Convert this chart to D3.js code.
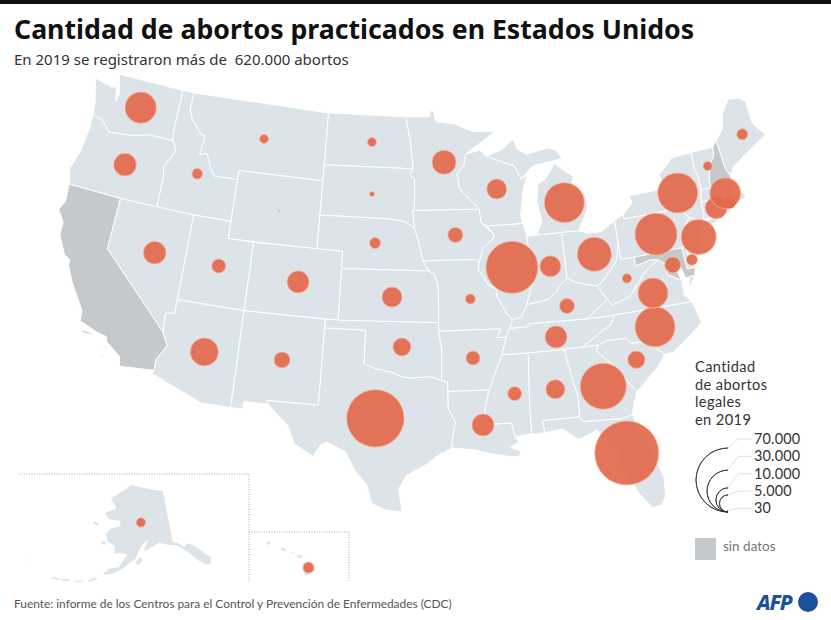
<!DOCTYPE html>
<html><head><meta charset="utf-8"><script src="https://cdn.jsdelivr.net/npm/d3@7"></script>
<style>html,body{margin:0;padding:0;background:#fff}svg{display:block}text{font-family:"Lato",sans-serif;white-space:pre}</style></head>
<body><svg id="c" width="831" height="620"></svg>
<script>
const titleText="Cantidad de abortos practicados en Estados Unidos";
const subtitleText="En 2019 se registraron más de  620.000 abortos";
const sourceText="Fuente: informe de los Centros para el Control y Prevención de Enfermedades (CDC)";
const legendLines=["Cantidad","de abortos","legales","en 2019"];
const legendValues=[70000,30000,10000,5000,30];
const legendLabels=["70.000","30.000","10.000","5.000","30"];
const noData=["CA","NH","MD"];
// state outlines: longitude / latitude rings
const outlines={
WA:[[[-124.7,48.38],[-123.2,48.15],[-122.75,48.2],[-122.45,47.4],[-122.35,47.9],[-122.8,49],[-117.03,49],[-117.04,46.42],[-116.92,46],[-118.98,46],[-119.3,45.93],[-120.5,45.7],[-121.2,45.65],[-122.3,45.55],[-122.8,45.9],[-123.2,46.15],[-124,46.27],[-124.1,46.9]]],
OR:[[[-124,46.27],[-123.2,46.15],[-122.8,45.9],[-122.3,45.55],[-121.2,45.65],[-120.5,45.7],[-119.3,45.93],[-118.98,46],[-116.92,46],[-116.5,45.5],[-116.85,44.9],[-117.2,44.4],[-117.03,43.8],[-117.03,42],[-120,42],[-124.2,42],[-124.55,42.85],[-124.1,44],[-123.95,45.5]]],
ID:[[[-117.03,49],[-116.05,49],[-116.05,48],[-115.7,47.45],[-114.7,46.7],[-114.35,46.65],[-114.5,45.55],[-113.9,45.65],[-113.45,44.95],[-113,44.45],[-111.05,44.47],[-111.05,42],[-114.05,42],[-117.03,42],[-117.03,43.8],[-117.2,44.4],[-116.85,44.9],[-116.5,45.5],[-116.92,46],[-117.04,46.42]]],
MT:[[[-116.05,49],[-104.05,49],[-104.05,45],[-111.05,45],[-111.05,44.47],[-113,44.45],[-113.45,44.95],[-113.9,45.65],[-114.5,45.55],[-114.35,46.65],[-114.7,46.7],[-115.7,47.45],[-116.05,48]]],
WY:[[[-111.05,45],[-104.05,45],[-104.05,41],[-111.05,41]]],
ND:[[[-104.05,49],[-97.23,49],[-96.85,47.6],[-96.56,45.94],[-104.05,45.94]]],
SD:[[[-104.05,45.94],[-96.56,45.94],[-96.85,45.6],[-96.45,45.3],[-96.45,43.5],[-96.6,43.5],[-96.45,42.49],[-97.2,42.85],[-98.5,43],[-104.05,43]]],
NE:[[[-104.05,43],[-98.5,43],[-97.2,42.85],[-96.45,42.49],[-96.1,41.7],[-95.9,41],[-95.77,40.58],[-95.31,40],[-102.05,40],[-102.05,41],[-104.05,41]]],
CO:[[[-109.05,41],[-102.05,41],[-102.05,37],[-109.05,37]]],
UT:[[[-114.05,42],[-111.05,42],[-111.05,41],[-109.05,41],[-109.05,37],[-114.05,37]]],
NV:[[[-120,42],[-114.05,42],[-114.05,36.2],[-114.7,36.1],[-114.63,35],[-120,39]]],
CA:[[[-124.2,42],[-120,42],[-120,39],[-114.63,35],[-114.13,34.27],[-114.7,33.4],[-114.72,32.72],[-117.12,32.53],[-117.3,33.1],[-118.4,33.75],[-118.5,34.03],[-119.2,34.15],[-120.6,34.55],[-120.65,35.15],[-121.9,36.6],[-122.5,37.5],[-122.5,37.8],[-123,38],[-123.75,39],[-123.8,39.8],[-124.4,40.4],[-124.1,41]],[[-120.4,34.05],[-119.6,34.05],[-119.5,33.95],[-120.2,33.92]],[[-118.6,33.48],[-118.35,33.4],[-118.45,33.33]],[[-118.6,33.05],[-118.35,32.85],[-118.5,32.82]]],
AZ:[[[-114.05,37],[-109.05,37],[-109.05,31.33],[-111.07,31.33],[-114.8,32.5],[-114.72,32.72],[-114.7,33.4],[-114.13,34.27],[-114.63,35],[-114.7,36.1],[-114.05,36.2]]],
NM:[[[-109.05,37],[-103,37],[-103.04,32],[-106.62,32],[-106.53,31.78],[-108.2,31.78],[-108.2,31.33],[-109.05,31.33]]],
TX:[[[-103,36.5],[-100,36.5],[-100,34.56],[-99.2,34.3],[-98.1,34.13],[-97.2,33.85],[-96.5,33.8],[-95.3,33.88],[-94.48,33.64],[-94.04,33.55],[-94.04,33],[-94.04,31.99],[-93.55,31.2],[-93.8,30.3],[-93.84,29.7],[-94.7,29.35],[-95.6,28.75],[-96.9,28.1],[-97.4,27.3],[-97.15,25.96],[-98.2,26.05],[-99.1,26.4],[-99.5,27.5],[-100.3,28.3],[-101,29.4],[-102.3,29.88],[-102.7,29.7],[-103.15,28.98],[-104.5,29.65],[-105,30.65],[-106.53,31.78],[-106.62,32],[-103.04,32]]],
OK:[[[-103,37],[-94.62,37],[-94.62,36.5],[-94.43,35.4],[-94.48,33.64],[-95.3,33.88],[-96.5,33.8],[-97.2,33.85],[-98.1,34.13],[-99.2,34.3],[-100,34.56],[-100,36.5],[-103,36.5]]],
KS:[[[-102.05,40],[-95.31,40],[-94.9,39.8],[-94.6,39.1],[-94.62,37],[-102.05,37]]],
MN:[[[-97.23,49],[-95.15,49],[-95.15,49.38],[-94.8,49.3],[-94.6,48.7],[-93,48.55],[-91.5,48.07],[-89.5,48],[-92.1,46.75],[-92.3,46.1],[-92.9,45.6],[-92.75,44.75],[-91.2,43.5],[-96.45,43.5],[-96.45,45.3],[-96.85,45.6],[-96.56,45.94],[-96.85,47.6]]],
IA:[[[-96.6,43.5],[-91.2,43.5],[-91.1,42.7],[-90.15,42],[-90.2,41.75],[-91.1,41.2],[-91.42,40.38],[-91.7,40.6],[-95.77,40.58],[-95.9,41],[-96.1,41.7],[-96.45,42.49]]],
MO:[[[-95.77,40.58],[-91.7,40.6],[-91.42,40.38],[-91.5,40],[-90.7,39],[-90.15,38.8],[-90.2,38.4],[-89.5,37.3],[-89.15,37],[-89.4,36.5],[-89.7,36],[-90.37,36],[-90.07,36.5],[-94.62,36.5],[-94.62,37],[-94.6,39.1],[-94.9,39.8],[-95.31,40]]],
AR:[[[-94.62,36.5],[-90.07,36.5],[-90.37,36],[-89.7,36],[-90.1,35],[-91.15,33],[-94.04,33],[-94.04,33.55],[-94.48,33.64],[-94.43,35.4]]],
LA:[[[-94.04,33],[-91.15,33],[-91.5,31.9],[-91.6,31],[-89.73,31],[-89.55,30.2],[-89.3,29.9],[-89.9,29.6],[-89.2,29.3],[-89.4,29],[-90.2,29.1],[-91.3,29.3],[-92.3,29.55],[-93.84,29.7],[-93.8,30.3],[-93.55,31.2],[-94.04,31.99]]],
MS:[[[-91.15,33],[-90.1,35],[-88.2,35],[-88.4,32],[-88.4,30.3],[-89.55,30.2],[-89.73,31],[-91.6,31],[-91.5,31.9]]],
AL:[[[-88.2,35],[-85.6,35],[-85.18,32.87],[-85,32.3],[-85.05,31],[-87.6,31],[-87.5,30.3],[-88,30.25],[-88.4,30.3],[-88.4,32]]],
TN:[[[-90.1,35],[-89.7,36],[-89.4,36.5],[-88.07,36.5],[-88.05,36.68],[-83.67,36.6],[-81.68,36.59],[-82,36.1],[-84.32,35],[-85.6,35],[-88.2,35]]],
KY:[[[-89.4,36.5],[-89.15,37],[-88.5,37.1],[-88,37.8],[-87,37.9],[-86.3,38],[-85.8,38.3],[-85.4,38.7],[-84.8,39.1],[-84.2,38.8],[-83.7,38.65],[-82.6,38.42],[-82,37.55],[-83.67,36.6],[-88.05,36.68],[-88.07,36.5]]],
IL:[[[-91.42,40.38],[-91.1,41.2],[-90.2,41.75],[-90.15,42],[-90.65,42.5],[-87.8,42.5],[-87.55,41.72],[-87.53,39.35],[-87.6,38.7],[-88,37.8],[-88.5,37.1],[-89.15,37],[-89.5,37.3],[-90.2,38.4],[-90.15,38.8],[-90.7,39],[-91.5,40]]],
IN:[[[-87.55,41.72],[-86.8,41.76],[-84.8,41.75],[-84.8,39.1],[-85.4,38.7],[-85.8,38.3],[-86.3,38],[-87,37.9],[-88,37.8],[-87.6,38.7],[-87.53,39.35]]],
WI:[[[-92.1,46.75],[-90.9,46.95],[-90.4,46.57],[-89,46.15],[-88.1,45.9],[-87.6,45.1],[-87.1,45.25],[-87.5,44.5],[-87.9,43],[-87.8,42.5],[-90.65,42.5],[-91.1,42.7],[-91.2,43.5],[-92.75,44.75],[-92.9,45.6],[-92.3,46.1]]],
MI:[[[-86.8,41.76],[-84.8,41.75],[-83.45,41.72],[-83.15,42.1],[-82.45,43],[-82.6,43.9],[-83.3,44],[-83.9,43.7],[-83.3,44.9],[-84.75,45.78],[-85.5,45],[-86.25,44.7],[-86.5,43.7],[-86.25,42.5]],[[-90.4,46.57],[-89,46.9],[-88,47.45],[-87.7,46.85],[-87,46.5],[-85,46.75],[-84.4,46.5],[-84,46],[-84.8,45.95],[-86.5,45.8],[-87.6,45.1],[-88.1,45.9],[-89,46.15]]],
OH:[[[-84.8,41.75],[-83.45,41.72],[-82.7,41.5],[-81.7,41.5],[-80.52,42],[-80.52,40.64],[-80.85,39.7],[-81.7,39],[-82.2,38.6],[-82.6,38.42],[-83.7,38.65],[-84.2,38.8],[-84.8,39.1]]],
WV:[[[-82.6,38.42],[-82.2,38.6],[-81.7,39],[-80.85,39.7],[-80.52,40.64],[-80.52,39.72],[-79.48,39.72],[-79.48,39.2],[-78.35,39.4],[-77.72,39.32],[-78.9,38.75],[-80.3,37.5],[-81.68,37.2],[-82,37.55]]],
VA:[[[-83.67,36.6],[-82,37.55],[-81.68,37.2],[-80.3,37.5],[-78.9,38.75],[-77.72,39.32],[-77.05,38.85],[-77.3,38.4],[-76.3,37.9],[-76.3,37],[-75.87,36.55],[-81.68,36.59]],[[-75.25,38.03],[-75.65,37.95],[-75.95,37.15]]],
NC:[[[-81.68,36.59],[-75.87,36.55],[-75.5,35.25],[-76.5,34.65],[-77.9,33.9],[-78.55,33.86],[-79.68,34.8],[-80.8,34.82],[-81.05,35.15],[-82.4,35.2],[-83.1,35],[-84.32,35],[-82,36.1]]],
SC:[[[-83.1,35],[-82.4,35.2],[-81.05,35.15],[-80.8,34.82],[-79.68,34.8],[-78.55,33.86],[-79.2,33.2],[-80.5,32.3],[-80.9,32.03],[-81.4,32.6],[-81.9,33.4],[-83.35,34.7]]],
GA:[[[-85.6,35],[-84.32,35],[-83.1,35],[-83.35,34.7],[-81.9,33.4],[-81.4,32.6],[-80.9,32.03],[-81.3,31.2],[-81.45,30.72],[-82.2,30.57],[-84.86,30.7],[-85.05,31],[-85,32.3],[-85.18,32.87]]],
FL:[[[-87.6,31],[-85.05,31],[-84.86,30.7],[-82.2,30.57],[-81.45,30.72],[-81.2,29.6],[-80.5,28.3],[-80.05,26.8],[-80.15,25.7],[-80.5,25.2],[-81.1,25.15],[-81.8,26.1],[-82.2,26.9],[-82.75,27.9],[-82.65,28.9],[-83.4,29.6],[-84,30.1],[-85.3,29.7],[-86.3,30.4],[-87.5,30.3]]],
PA:[[[-80.52,42],[-79.76,42.27],[-79.76,42],[-75.35,42],[-74.7,41.35],[-75.1,40.95],[-75.2,40.65],[-74.7,40.15],[-75.4,39.8],[-75.78,39.72],[-79.48,39.72],[-80.52,39.72]]],
NY:[[[-79.76,42.27],[-78.9,42.85],[-79.05,43.27],[-76.8,43.3],[-76.2,43.55],[-76.3,44.15],[-75,44.95],[-73.35,45],[-73.4,44],[-73.25,43.55],[-73.27,42.75],[-73.5,42.05],[-73.5,41.3],[-73.65,41],[-73.9,40.9],[-73.9,41],[-74.7,41.35],[-75.35,42],[-79.76,42]],[[-74,40.6],[-73.75,40.85],[-72.4,41.1],[-71.9,41.07],[-72.8,40.7]]],
NJ:[[[-74.7,41.35],[-73.9,41],[-74,40.5],[-74.1,39.75],[-74.9,38.95],[-75.5,39.5],[-74.7,40.15],[-75.2,40.65],[-75.1,40.95]]],
DE:[[[-75.78,39.72],[-75.4,39.8],[-75.5,39.4],[-75.05,38.45],[-75.7,38.46]]],
MD:[[[-79.48,39.72],[-75.78,39.72],[-75.7,38.46],[-75.05,38.45],[-75.25,38.03],[-75.95,37.95],[-76.25,38.9],[-76.45,38.3],[-76.3,37.9],[-77.3,38.4],[-77.05,38.85],[-77.72,39.32],[-78.35,39.4],[-79.48,39.2]]],
ME:[[[-71.08,45.3],[-70.3,45.9],[-70,46.7],[-69.2,47.45],[-68.3,47.35],[-67.8,47.07],[-67.8,45.7],[-67.45,45.3],[-67,44.85],[-68.5,44.3],[-69.5,43.9],[-70.25,43.6],[-70.7,43.07],[-70.97,43.6]]],
NH:[[[-71.5,45],[-71.08,45.3],[-70.97,43.6],[-70.7,43.07],[-70.82,42.87],[-72.46,42.73],[-72.45,43.2],[-72.05,44.1],[-71.6,44.5]]],
VT:[[[-73.35,45],[-71.5,45],[-71.6,44.5],[-72.05,44.1],[-72.45,43.2],[-72.46,42.73],[-73.27,42.75],[-73.25,43.55],[-73.4,44]]],
MA:[[[-73.5,42.05],[-73.27,42.75],[-72.46,42.73],[-70.82,42.87],[-70.6,42.65],[-71,42.3],[-70.6,41.95],[-70.05,42.05],[-70,41.65],[-71.1,41.5],[-71.38,42.02],[-71.8,42.02]]],
RI:[[[-71.8,42.02],[-71.38,42.02],[-71.1,41.5],[-71.85,41.32]]],
CT:[[[-73.5,42.05],[-71.8,42.02],[-71.85,41.32],[-73.65,41],[-73.5,41.3]]]
};
const alaskaOutline=[[[-141,69.65],[-141,60.3],[-139.5,60],[-137.5,59],[-136,59.5],[-134,58.8],[-131,56.5],[-130,55.9],[-130.5,54.8],[-132,54.8],[-134,56],[-136,57.5],[-137.5,58.5],[-139.9,59.6],[-143,60],[-146,60.6],[-148.5,60],[-151.8,59.2],[-150,61.2],[-152,60.5],[-153.5,59.3],[-154.5,58],[-157,57],[-159,56],[-162,55],[-164.8,54.6],[-163,55.9],[-160,56.3],[-157.5,58.7],[-160,58.8],[-162,58.7],[-162,60],[-165,60.6],[-166,62],[-164.5,63],[-161,63.6],[-161,64.6],[-166,64.6],[-168,65.6],[-164,66.5],[-163.8,67],[-166.8,68.3],[-163,69.5],[-157,71.2],[-152,70.8],[-146,70.2]],
[[-154.7,57.3],[-153,58.3],[-152.2,57.6],[-153.8,56.8]],[[-167,60.4],[-165.5,60.5],[-165.6,59.9],[-167,60]],[[-171.7,63.7],[-169,63.3],[-170,63.1],[-171.7,63.35]],
[[-169,52.9],[-167,53.9],[-166,53.7],[-168,53]],[[-176.5,52],[-174,52.4],[-174,52.1],[-176.5,51.7]],[[-172.6,52.4],[-170,52.9],[-170.5,52.6],[-172.6,52.2]],[[173,52.9],[172.6,53],[172.5,52.8],[173,52.75]],[[-179,51.9],[-177,51.9],[-177,51.6],[-179,51.6]]];
const hawaiiOutline=[[[-155.9,20.25],[-155.1,19.85],[-154.8,19.5],[-155.65,18.95],[-155.9,19.1],[-156.05,19.75]],[[-156.7,20.95],[-156.25,20.95],[-156,20.75],[-156.4,20.6]],[[-157.3,21.2],[-156.75,21.17],[-157,21.08]],[[-158.25,21.55],[-158,21.7],[-157.65,21.3],[-158.1,21.3]],[[-159.75,22.1],[-159.4,22.23],[-159.3,22],[-159.55,21.88]]];
const stateCodes=["WA","OR","ID","NV","UT","AZ","CO","NM","MT","WY","ND","SD","NE","KS","OK","TX","MN","IA","MO","AR","LA","WI","IL","IN","MI","OH","KY","TN","MS","AL","GA","FL","SC","NC","VA","WV","PA","NY","NJ","CT","MA","RI","DE","DC","VT","ME"];
const stateValues=[16850,8730,1920,8730,3350,13400,8270,4375,1380,40,1380,430,2070,6840,5540,56300,9840,3850,1700,3350,8270,6840,46200,7540,27300,19800,3850,8270,3350,6170,36200,70000,5170,27300,15400,1510,30100,27300,20900,8270,16400,2070,2070,4375,1380,2070];
const stateLon=[-120.25,-120.32,-114.39,-116.42,-111.43,-111.45,-105.28,-105.88,-109.36,-107.36,-100.13,-99.94,-99.54,-98.11,-97.31,-99.07,-93.97,-93.2,-92.21,-92.19,-91.69,-89.68,-88.91,-85.96,-84.29,-82.48,-85.04,-86.09,-89.38,-86.52,-83.17,-82.22,-80.59,-78.87,-78.57,-80.3,-77.5,-75.15,-74.31,-72.44,-71.47,-71.3,-75.2,-76.71,-72.29,-68.85];
const stateLat=[47.43,43.97,44.39,39.4,39.34,34.29,39.02,34.43,47.05,42.99,47.45,44.41,41.57,38.47,35.59,31.41,46.31,42.06,38.32,34.9,30.98,44.61,40.01,39.87,43.45,40.25,37.48,35.77,32.7,32.75,32.6,28.55,33.84,35.53,37.48,38.58,40.8,42.88,40.12,41.53,42.21,41.59,38.92,38.86,44,45.25];
const alaskaPoint=[[-152.5,64.45]], alaskaValue=[1500];
const hawaiiPoint=[[-155.45,19.72]], hawaiiValue=[2070];

const landColor="#dde4e9", noDataColor="#c6c9cb", bubbleColor="#e3694b", bubbleEdge="#f8b29b";
const svg=d3.select("#c");
svg.append("rect").attr("width",831).attr("height",4).attr("fill","#111");
const fixRing=r=>d3.geoArea({type:"Polygon",coordinates:[r.concat([r[0]])]})>2*Math.PI?r.slice().reverse():r;
const toGeo=rings=>({type:"MultiPolygon",coordinates:rings.map(r=>[fixRing(r).concat([fixRing(r)[0]])])});
const size=d3.scaleSqrt().domain([0,70000]).range([0,32]);
const proj=d3.geoConicEqualArea().parallels([29.5,45.5]).rotate([96,0]).center([0,38]).scale(980).translate([420,305.5]);
const path=d3.geoPath(proj);
const gMap=svg.append("g");
gMap.selectAll("path").data(Object.keys(outlines)).join("path").attr("d",k=>path(toGeo(outlines[k])))
 .attr("fill",k=>noData.includes(k)?noDataColor:landColor).attr("stroke","#fff").attr("stroke-width",1);
const akProj=d3.geoConicEqualArea().parallels([55,65]).rotate([154,0]).center([0,50]);
const akGeo=toGeo(alaskaOutline); akProj.fitExtent([[28,485],[212,582]],akGeo);
svg.append("path").attr("d",d3.geoPath(akProj)(akGeo)).attr("fill",landColor);
const hiProj=d3.geoConicEqualArea().parallels([8,18]).rotate([157,0]).center([0,20]);
const hiGeo=toGeo(hawaiiOutline); hiProj.fitExtent([[266,539],[315,578]],hiGeo);
svg.append("path").attr("d",d3.geoPath(hiProj)(hiGeo)).attr("fill",landColor);
// dotted inset frames
const frame=(pts)=>svg.append("path").attr("d",d3.line()(pts)).attr("fill","none").attr("stroke","#aaa").attr("stroke-width",1).attr("stroke-dasharray","1 1.5");
frame([[19,474],[249,474],[249,582]]);frame([[249,532],[349,532],[349,582]]);
const bubbles=stateCodes.map((c,i)=>({c,v:stateValues[i],p:proj([stateLon[i],stateLat[i]])}))
 .concat([{c:"AK",v:alaskaValue[0],p:akProj(alaskaPoint[0])},{c:"HI",v:hawaiiValue[0],p:hiProj(hawaiiPoint[0])}]);
svg.append("g").selectAll("circle").data(bubbles).join("circle").attr("cx",d=>d.p[0]).attr("cy",d=>d.p[1])
 .attr("r",d=>size(d.v)).attr("fill",bubbleColor).attr("fill-opacity",.92).attr("stroke",d=>d.c==="RI"?"none":bubbleEdge).attr("stroke-width",.8);
svg.append("text").attr("x",14).attr("y",39).attr("font-size",26.7).attr("font-weight",700).attr("fill","#111").style("font-family","'Noto Sans'").text(titleText);
svg.append("text").attr("x",14).attr("y",65).attr("font-size",15).attr("fill","#333").style("font-family","'Noto Sans'").text(subtitleText);
svg.append("text").attr("x",14).attr("y",608).attr("font-size",11.9).attr("fill","#555").text(sourceText);
const lg=svg.append("g");
legendLines.forEach((t,i)=>lg.append("text").attr("x",695).attr("y",372+i*17.6).attr("font-size",14.6).attr("letter-spacing",.4).attr("fill","#333").text(t));
const lx=728, ly=512;
legendValues.forEach((v,i)=>{
 const r=size(v), ty=444+i*17.35;
 lg.append("path").attr("d",d3.line()([[lx,ly-2*r],[lx+10,ty-5],[752,ty-5]])).attr("fill","none").attr("stroke","#e8c9c2").attr("stroke-width",.7);
 lg.append("path").attr("transform",`translate(${lx},${ly-r})`).attr("d",d3.arc()({innerRadius:r,outerRadius:r,startAngle:Math.PI,endAngle:2*Math.PI})).attr("fill","none").attr("stroke","#333").attr("stroke-width",.8);
 lg.append("text").attr("x",754).attr("y",ty).attr("font-size",14.4).attr("letter-spacing",.2).attr("fill","#333").text(legendLabels[i]);
});
lg.append("rect").attr("x",695).attr("y",538).attr("width",21).attr("height",22).attr("fill",noDataColor);
lg.append("text").attr("x",723).attr("y",551).attr("font-size",13.5).attr("fill","#777").text("sin datos");
svg.append("text").attr("x",757).attr("y",610).attr("font-size",21).attr("font-weight",800).attr("font-style","italic").attr("letter-spacing",-1.2).attr("fill","#1c4f9c").style("font-family","'Noto Sans'").text("AFP");
svg.append("circle").attr("cx",808).attr("cy",602).attr("r",10).attr("fill","#1c4f9c");
</script></body></html>
